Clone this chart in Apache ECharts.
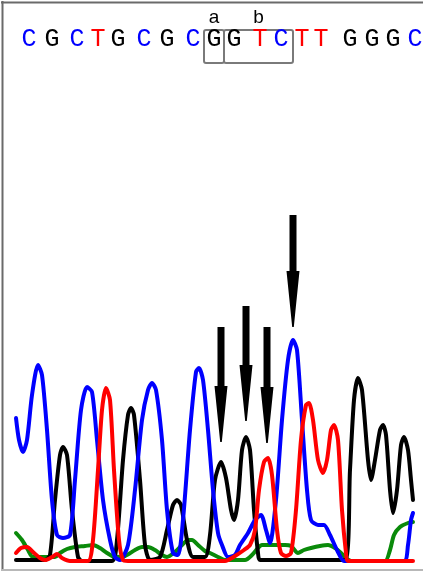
<!DOCTYPE html>
<html><head><meta charset="utf-8">
<script src="https://cdn.jsdelivr.net/npm/echarts@6/dist/echarts.min.js"></script>
<style>html,body{margin:0;padding:0;background:#fff}#c{width:423px;height:573px}</style>
</head><body><div id="c"></div>
<script>
// Trace samples: [x position, signal height above baseline]
const blueTrace = [[16,145],[19,123],[23,111],[27,123],[32,168],[38,198],[42,188],[47,133],[52,63],[57,28],[63,25],[70,28],[75,83],[81,153],[87,176],[92,171],[97,123],[103,63],[110,23],[115,6],[120,3],[128,18],[135,73],[142,143],[148,173],[152,180],[156,173],[162,123],[167,53],[173,10],[178,8],[183,43],[190,133],[196,191],[199,195],[203,183],[208,133],[213,73],[218,30],[222,18],[228,6],[235,8],[240,18],[248,30],[255,43],[261,48],[266,33],[270,20],[276,63],[282,143],[288,203],[293,223],[297,213],[302,143],[307,73],[311,43],[318,38],[324,38],[330,28],[337,13],[344,2],[350,2],[404,2],[408,18],[411,43],[413,50]];
const blackTrace = [[16,3],[45,3],[50,8],[55,63],[60,108],[63,116],[67,108],[72,53],[78,6],[82,2],[112,2],[117,23],[123,103],[128,148],[131,155],[134,148],[140,83],[145,18],[150,3],[160,6],[167,33],[173,58],[177,63],[181,58],[187,23],[193,6],[205,6],[210,28],[215,83],[221,101],[226,85],[231,53],[234,43],[238,63],[242,113],[246,126],[250,113],[254,53],[258,10],[260,3],[345,3],[350,93],[354,163],[358,185],[362,173],[368,103],[371,83],[375,103],[380,133],[383,138],[386,128],[390,73],[393,50],[397,73],[401,118],[404,126],[408,113],[411,83],[413,63]];
const redTrace = [[16,10],[21,15],[27,16],[33,11],[40,5],[45,3],[52,6],[57,9],[62,5],[70,2],[88,2],[93,23],[98,93],[102,153],[106,175],[110,163],[114,93],[119,23],[123,3],[128,2],[225,2],[235,7],[244,13],[250,18],[255,33],[259,73],[264,101],[268,105],[272,88],[277,33],[281,10],[286,7],[291,10],[296,53],[301,123],[306,158],[309,160],[313,143],[318,103],[323,90],[327,103],[331,133],[334,138],[338,123],[342,53],[346,10],[348,2],[413,2]];
const greenTrace = [[16,30],[22,23],[28,13],[33,6],[55,6],[60,10],[67,14],[75,16],[85,17],[93,18],[100,15],[107,10],[115,6],[125,7],[135,13],[142,16],[148,16],[155,13],[162,8],[167,6],[175,11],[182,18],[188,23],[192,23],[198,18],[205,12],[210,10],[218,6],[225,3],[245,3],[252,8],[258,15],[262,18],[285,18],[291,17],[298,10],[304,13],[311,15],[320,17],[328,18],[335,15],[341,10],[346,5],[352,2],[385,2],[390,13],[394,28],[400,36],[408,40],[413,41]];

// Base calls along the top
const baseCalls = ['C','G','C','T','G','C','G','C','G','G','T','C','T','T','G','G','G','C'];
const basePositions = [29,52,77,98,118,144,167,193,214,234,260,281,302,321,350,372,393,415];
const baseRow = 524;

// Arrows pointing at peaks: x, tip height, tail height
const arrowX = [221,246,267,293];
const arrowTip = [121,142,120,236];
const arrowTail = [236,257,236,348];

// Boxed regions a and b
const boxLabels = ['a','b'];
const boxStart = [204,224];
const boxEnd = [224,293];
const boxTop = 533, boxBottom = 500;

const baseColor = {C:'#0000ff', G:'#000000', T:'#ff0000', A:'#008000'};

const chart = echarts.init(document.getElementById('c'), null, {renderer:'canvas'});

function trace(data, color, z){
  return {type:'line', data, smooth:0.25, symbol:'none', z,
    lineStyle:{color, width:4, cap:'round', join:'round'}, animation:false};
}

const option = {
  animation:false,
  grid:{left:0,right:0,top:0,bottom:0},
  xAxis:{type:'value',min:0,max:423,show:false},
  yAxis:{type:'value',min:-10,max:563,show:false},
  series:[
    trace(greenTrace,'#0a8a0a',2),
    trace(blackTrace,'#000000',3),
    trace(blueTrace,'#0000ff',4),
    trace(redTrace,'#ff0000',5),
    {type:'custom', z:10,
      data: baseCalls.map((b,i)=>[basePositions[i], baseRow, i]),
      renderItem:(params, api)=>{
        const p = api.coord([api.value(0), api.value(1)]);
        const b = baseCalls[api.value(2)];
        return {type:'text', z2:5, style:{text:b, x:p[0], y:p[1], align:'center', verticalAlign:'middle',
          fontFamily:'Liberation Mono', fontSize:25, fill:baseColor[b]}};
      }
    },
    {type:'custom', z:9,
      data: boxLabels.map((l,i)=>[boxStart[i], boxEnd[i], i]),
      renderItem:(params, api)=>{
        const p0 = api.coord([api.value(0), boxTop]);
        const p1 = api.coord([api.value(1), boxBottom]);
        const lab = boxLabels[api.value(2)];
        return {type:'group', children:[
          {type:'rect', shape:{x:p0[0], y:p0[1], width:p1[0]-p0[0], height:p1[1]-p0[1], r:2},
            style:{fill:null, stroke:'#7a7a7a', lineWidth:2}},
          {type:'text', style:{text:lab, x:(p0[0]+p1[0])/2, y:p0[1]-3, align:'center', verticalAlign:'bottom',
            fontFamily:'Liberation Sans', fontSize:19, fill:'#000'}}
        ]};
      }
    },
    {type:'custom', z:12,
      data: arrowX.map((x,i)=>[x, arrowTip[i], arrowTail[i]]),
      renderItem:(params, api)=>{
        const tip = api.coord([api.value(0), api.value(1)]);
        const tail = api.coord([api.value(0), api.value(2)]);
        const x = tip[0];
        const headLen = 56, sw = 3.5, hw = 6.5;
        const hy = tip[1]-headLen;
        return {type:'polygon', shape:{points:[
          [x-sw, tail[1]],[x+sw, tail[1]],[x+sw, hy],[x+hw, hy],[x+0.8, tip[1]],[x-0.8, tip[1]],[x-hw, hy],[x-sw, hy]
        ]}, style:{fill:'#000'}};
      }
    }
  ],
  graphic:[
    {type:'line', shape:{x1:2.5,y1:1,x2:2.5,y2:570}, style:{stroke:'#6a6a6a', lineWidth:2}, z:20},
    {type:'line', shape:{x1:1,y1:2.5,x2:423,y2:2.5}, style:{stroke:'#6a6a6a', lineWidth:2}, z:20},
    {type:'line', shape:{x1:1,y1:570,x2:423,y2:570}, style:{stroke:'#b8b8b8', lineWidth:2}, z:20}
  ]
};
chart.setOption(option);
</script>
</body></html>
